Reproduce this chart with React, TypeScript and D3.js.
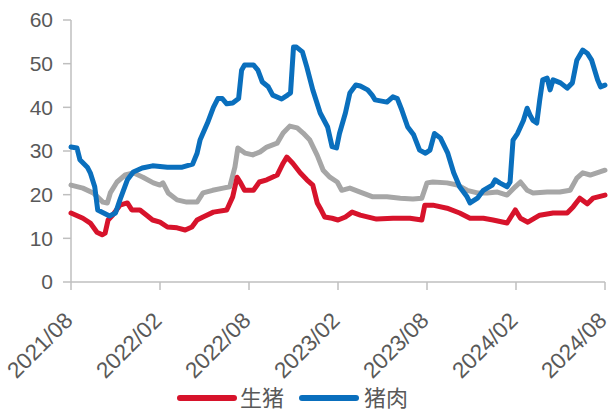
import React from "react";
import * as d3 from "d3";

// x = months since 2021/08
const tickLabels = ["2021/08", "2022/02", "2022/08", "2023/02", "2023/08", "2024/02", "2024/08"];
const tickMonths = [0, 6, 12, 18, 24, 30, 36];
const yTicks = [0, 10, 20, 30, 40, 50, 60];

const pigMonths = [0,0.8,1.3,1.75,2.1,2.3,2.5,2.8,3.3,3.8,4.1,4.65,5.1,5.5,6.0,6.5,7.15,7.7,8.15,8.5,8.9,9.6,10.5,10.9,11.2,11.4,11.7,12.3,12.7,13.2,13.9,14.3,14.55,14.95,15.45,15.9,16.3,16.6,16.8,17.1,17.6,18.0,18.5,18.95,19.5,20.6,21.7,22.85,23.65,23.85,24.4,25.35,26.2,26.9,27.8,28.45,29.4,29.95,30.3,30.8,31.6,32.5,33.45,33.85,34.3,34.8,35.2,36];
const pigValues = [15.8,14.6,13.5,11.4,10.8,11.2,14.2,15.3,17.6,18.1,16.5,16.5,15.3,14.2,13.7,12.6,12.4,11.9,12.6,14.2,14.9,16,16.5,19.5,24,22.9,21,21,22.9,23.4,24.5,27.2,28.6,27.2,25,23.4,22.2,18.1,16.9,14.9,14.6,14.2,14.9,16,15.3,14.4,14.6,14.6,14.2,17.6,17.6,16.9,15.8,14.6,14.6,14.2,13.5,16.5,14.6,13.7,15.3,15.8,15.8,17.2,19.2,17.9,19.2,19.9];

const porkMonths = [0,0.4,0.6,1.1,1.3,1.6,1.8,2.2,2.6,3.0,3.3,3.8,4.2,4.8,5.5,6.5,7.5,8.2,8.5,8.7,9.2,9.6,9.9,10.2,10.5,10.9,11.3,11.5,11.7,12.3,12.6,12.9,13.3,13.6,14.2,14.6,14.8,15.0,15.2,15.6,15.9,16.3,16.8,17.3,17.6,17.9,18.1,18.5,18.8,19.2,19.5,20.0,20.3,20.5,21.3,21.7,22.0,22.3,22.7,23.1,23.5,23.9,24.2,24.5,24.9,25.4,25.8,26.2,26.7,26.9,27.4,27.8,28.4,28.6,28.9,29.4,29.6,29.8,30.1,30.5,30.75,30.95,31.15,31.4,31.6,31.8,32.1,32.3,32.5,33.0,33.45,33.8,34.1,34.5,34.8,35.1,35.5,35.7,36];
const porkValues = [30.9,30.7,28,26.3,25,21.8,16.5,15.8,15.1,15.8,18.8,23.4,25.2,26.1,26.6,26.3,26.3,27,29.5,32.5,36.4,40,42,42,40.8,41,42,48.5,49.7,49.7,48.5,45.8,44.7,42.8,41.9,42.8,43.3,53.8,53.8,52.7,49.2,44,38.7,35.5,31,30.7,34,38.7,43.3,45.1,44.9,44,42.8,41.7,41.2,42.4,42,39.4,35.5,33.7,30.2,29.5,30.2,34,33,29.5,25,21.8,19.5,18.1,19.2,21,22.2,23.4,22.7,21.8,22.9,32.5,34,37,39.8,38.2,37,36.4,41.7,46.3,46.7,44,46.3,45.6,44.4,45.6,50.8,53.1,52.4,50.8,46.3,44.7,45.1];

const grayMonths = [0,0.8,1.5,2.15,2.45,2.65,3.1,3.65,4.2,4.85,5.55,6.0,6.2,6.55,7.15,7.8,8.5,8.9,9.55,10.25,10.7,11.05,11.25,11.75,12.25,12.75,13.2,13.9,14.3,14.75,15.25,15.65,16.1,16.6,17.0,17.45,17.95,18.25,18.8,19.5,20.35,21.3,22.2,23.05,23.65,24.0,24.4,25.35,26.05,26.7,27.4,28.05,28.75,29.4,29.95,30.3,30.75,31.15,32.1,32.95,33.65,34.1,34.5,35.0,35.65,36];
const grayValues = [22.2,21.5,20.4,18.3,18.1,20.4,22.9,24.5,25,24,22.7,22.2,22.7,20.4,18.8,18.3,18.3,20.4,21,21.5,21.8,26.3,30.7,29.5,29.1,29.8,30.9,31.8,34.1,35.7,35.3,34.1,32.5,29,25.6,24,22.9,21,21.5,20.6,19.5,19.5,19.2,19,19.2,22.7,22.9,22.7,22.2,21,20.4,20.4,20.6,19.9,21.8,22.9,21,20.4,20.6,20.6,21,23.8,25,24.5,25.2,25.6];

const legendNames = ["生猪", "猪肉"];
const colors = { pig: "#d7132b", pork: "#0a6fbd", gray: "#a6a6a6" };

const W = 612, H = 410;
const x = d3.scaleLinear().domain([0, 36]).range([71, 605]);
const y = d3.scaleLinear().domain([0, 60]).range([282, 20]);
const axisColor = "#bfbfbf";
const textColor = "#595959";
const font = "Arial, 'Liberation Sans', 'Noto Sans CJK SC', sans-serif";

const line = d3.line<[number, number]>().x(d => x(d[0])).y(d => y(d[1])).curve(d3.curveLinear);
const zip = (a: number[], b: number[]) => a.map((m, i) => [m, b[i]] as [number, number]);

export default function App() {
  const series = [
    { key: "gray", d: zip(grayMonths, grayValues), c: colors.gray },
    { key: "pig", d: zip(pigMonths, pigValues), c: colors.pig },
    { key: "pork", d: zip(porkMonths, porkValues), c: colors.pork },
  ];
  return (
    <svg width={W} height={H} style={{ position: "absolute", left: 0, top: 0, background: "#fff" }} fontFamily={font}>
      {/* y axis */}
      <line x1={x(0)} x2={x(0)} y1={y(60)} y2={y(0)} stroke={axisColor} strokeWidth={1.5} />
      {yTicks.map(t => (
        <g key={t}>
          <line x1={x(0) - 8} x2={x(0)} y1={y(t)} y2={y(t)} stroke={axisColor} strokeWidth={1.5} />
          <text x={53} y={y(t)} dy="0.35em" textAnchor="end" fontSize={21} fill={textColor}>{t}</text>
        </g>
      ))}
      {/* x axis */}
      <line x1={x(0)} x2={x(36)} y1={y(0)} y2={y(0)} stroke={axisColor} strokeWidth={1.5} />
      {tickMonths.map((m, i) => (
        <g key={m}>
          <line x1={x(m)} x2={x(m)} y1={y(0)} y2={y(0) + 8} stroke={axisColor} strokeWidth={1.5} />
          <text transform={`translate(${x(m) + 3},${y(0) + 40}) rotate(-45)`} textAnchor="end" fontSize={22.5} fill={textColor}>{tickLabels[i]}</text>
        </g>
      ))}
      {series.map(s => (
        <path key={s.key} d={line(s.d) || ""} fill="none" stroke={s.c} strokeWidth={5} strokeLinejoin="round" strokeLinecap="round" />
      ))}
      {/* legend */}
      <line x1={180} x2={234} y1={398} y2={398} stroke={colors.pig} strokeWidth={6} strokeLinecap="round" />
      <text x={240} y={398} dy="0.36em" fontSize={22} fill={textColor}>{legendNames[0]}</text>
      <line x1={302} x2={356} y1={398} y2={398} stroke={colors.pork} strokeWidth={6} strokeLinecap="round" />
      <text x={364} y={398} dy="0.36em" fontSize={22} fill={textColor}>{legendNames[1]}</text>
    </svg>
  );
}
